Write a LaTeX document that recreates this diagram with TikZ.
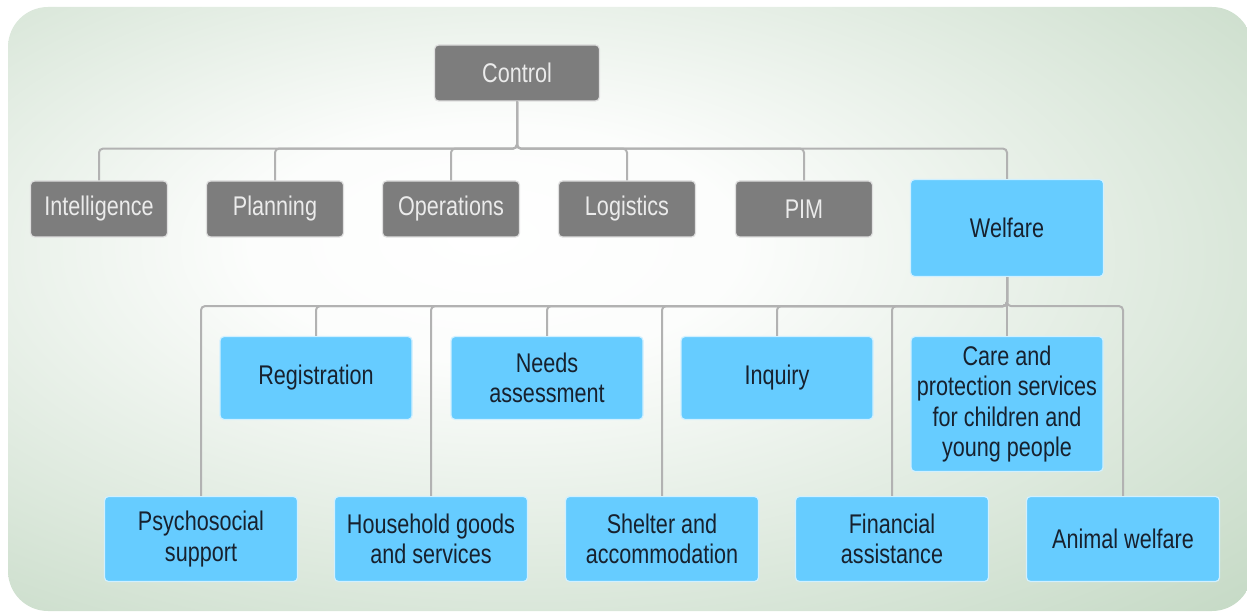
\documentclass[tikz,border=0pt]{standalone}
\usepackage{fontspec}
\setmainfont{Liberation Sans}[FakeStretch=0.8]
\usepackage{tikz}
\definecolor{bggreen}{HTML}{C6DAC6}
\definecolor{boxgray}{HTML}{7D7D7D}
\definecolor{boxblue}{HTML}{66CCFF}
\definecolor{txtdark}{HTML}{17212E}
\definecolor{linkgray}{HTML}{B2B2B2}
\pgfdeclareradialshading{bgshade}{\pgfpoint{-6bp}{6bp}}{color(0bp)=(white); color(10bp)=(white!94!bggreen); color(40bp)=(bggreen); color(100bp)=(bggreen)}

\begin{document}
\begin{tikzpicture}[x=1pt, y=-1pt,
		greybox/.style={fill=boxgray, draw=white!75!boxgray, text=white!92!black},
		bluebox/.style={fill=boxblue, draw=white!70!boxblue, text=txtdark},
		link/.style={draw=linkgray, line width=2pt, rounded corners=4pt}]
	\useasboundingbox (0,0) rectangle (1247,612);
	\shade[shading=bgshade, rounded corners=40pt] (8,7) rectangle (1252,611);

	\begin{scope}[every node/.style={rounded corners=4pt, line width=1.2pt, inner sep=0pt,
			align=center, font=\fontsize{27}{30.5}\selectfont}]
		% top levels
		\node[greybox, minimum width=165, minimum height=56] (C) at (517,73) {Control};
		\node[greybox, minimum width=137, minimum height=56] (I) at (99,209) {Intelligence};
		\node[greybox, minimum width=137, minimum height=56] (P) at (275,209) {Planning};
		\node[greybox, minimum width=137, minimum height=56] (O) at (451,209) {Operations};
		\node[greybox, minimum width=137, minimum height=56] (L) at (627,209) {Logistics};
		\node[greybox, minimum width=137, minimum height=56] (M) at (804,209) {PIM};
		\node[bluebox, minimum width=193, minimum height=97] (W) at (1007,228) {Welfare};
		% welfare functions
		\node[bluebox, minimum width=192, minimum height=83] (R) at (316,378) {Registration};
		\node[bluebox, minimum width=192, minimum height=83] (N) at (547,378) {Needs\\assessment};
		\node[bluebox, minimum width=192, minimum height=83] (Q) at (777,378) {Inquiry};
		\node[bluebox, minimum width=192, minimum height=135] (K) at (1007,404) {Care and\\protection services\\for children and\\young people};
		\node[bluebox, minimum width=193, minimum height=85] (S) at (201,539) {Psychosocial\\support};
		\node[bluebox, minimum width=193, minimum height=85] (H) at (431,539) {Household goods\\and services};
		\node[bluebox, minimum width=193, minimum height=85] (A) at (662,539) {Shelter and\\accommodation};
		\node[bluebox, minimum width=193, minimum height=85] (F) at (892,539) {Financial\\assistance};
		\node[bluebox, minimum width=193, minimum height=85] (V) at (1123,539) {Animal welfare};
	\end{scope}

	\foreach \n in {I,P,O,L,M,W}
		\draw[link] (C.south) -- ++(0,47) -| (\n.north);
	\foreach \n in {R,N,Q,K,S,H,A,F,V}
		\draw[link] (W.south) -- ++(0,29) -| (\n.north);
\end{tikzpicture}
\end{document}
